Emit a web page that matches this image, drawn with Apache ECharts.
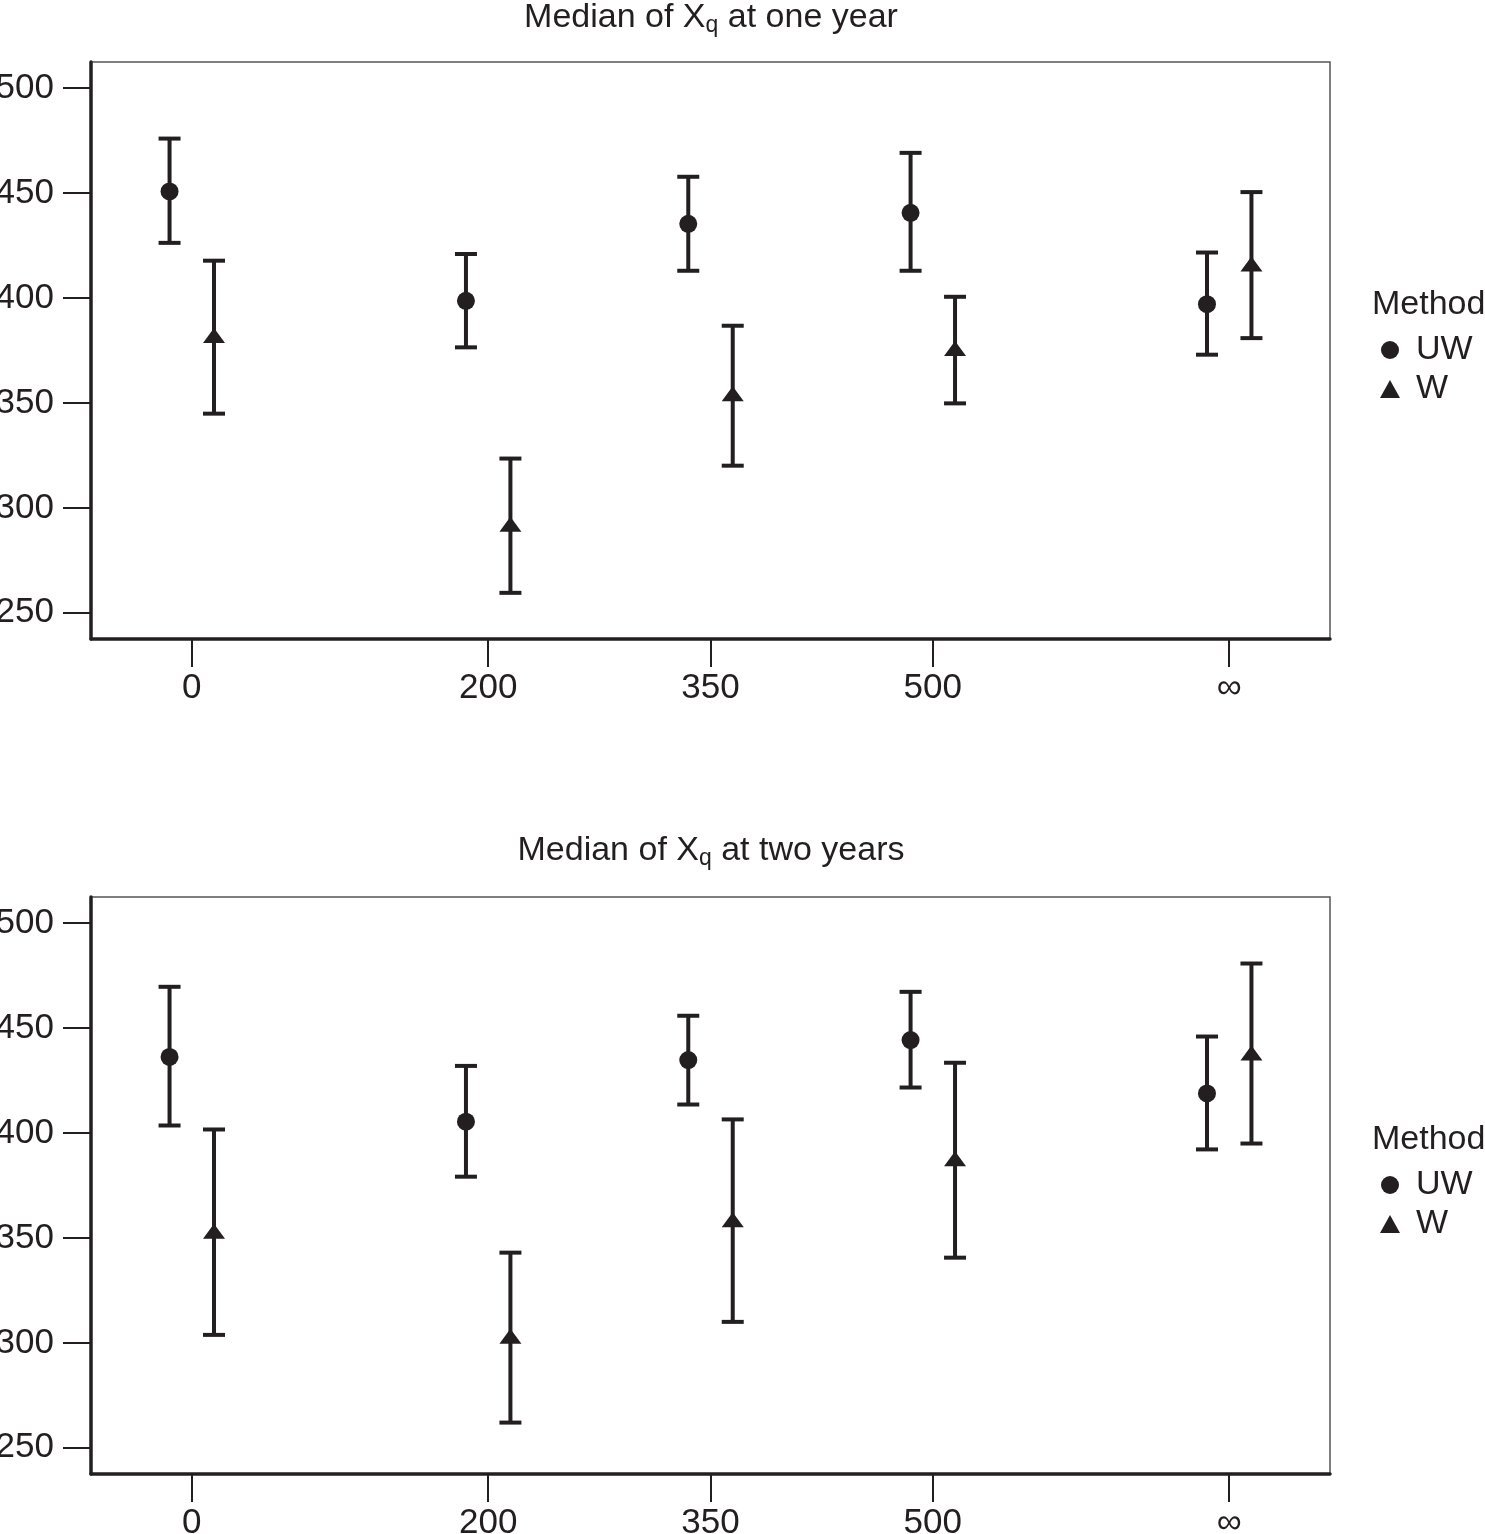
<!DOCTYPE html>
<html>
<head>
<meta charset="utf-8">
<title>Median of Xq</title>
<script src="https://cdn.jsdelivr.net/npm/echarts@6/dist/echarts.min.js"></script>
<style>
  html, body { margin: 0; padding: 0; background: #fff; }
  #main { width: 1485px; height: 1534px; }
</style>
</head>
<body>
<div id="main"></div>
<script>
// group positions on the x axis (infinity drawn at 700)
const xPositions = [0, 200, 350, 500, 700]
const xLabels = ['0', '200', '350', '500', '∞']
const yTicks = [250, 300, 350, 400, 450, 500]

// median of Xq at one year
const uw1 = [450.8, 398.7, 435.4, 440.6, 397.1]
const uw1Low = [426.3, 376.5, 413.0, 413.0, 373.0]
const uw1High = [476.0, 421.0, 457.8, 469.2, 421.7]
const w1 = [382.2, 292.2, 354.4, 375.9, 416.2]
const w1Low = [344.9, 259.5, 320.1, 349.8, 380.9]
const w1High = [417.8, 323.5, 386.8, 400.6, 450.5]

// median of Xq at two years
const uw2 = [436.3, 405.4, 434.8, 444.3, 418.9]
const uw2Low = [403.6, 379.2, 413.6, 421.7, 392.2]
const uw2High = [469.7, 432.0, 455.9, 467.3, 446.0]
const w2 = [353.2, 303.2, 358.7, 387.7, 438.2]
const w2Low = [303.8, 262.0, 310.0, 340.6, 395.0]
const w2High = [401.7, 343.0, 406.5, 433.5, 480.8]

const ink = '#231f20'
const font = 'Liberation Sans, Arial, sans-serif'
const dodge = 15 // horizontal offset of UW / W in axis units

const chart = echarts.init(document.getElementById('main'))

function makeGrid (top) {
  return {
    left: 91, right: 155, top: top, height: 577,
    outerBoundsMode: 'none', containLabel: false,
    show: true, borderColor: '#555', borderWidth: 1.5, backgroundColor: '#fff'
  }
}

function makeXAxis (idx) {
  return {
    type: 'value', gridIndex: idx, min: -68, max: 768,
    axisLine: { onZero: false, lineStyle: { color: ink, width: 3.5 } },
    axisTick: { customValues: xPositions, length: 28, lineStyle: { color: ink, width: 2 } },
    axisLabel: {
      customValues: xPositions, margin: 32, fontSize: 35, fontFamily: font, color: ink,
      formatter: v => xLabels[xPositions.indexOf(v)]
    },
    splitLine: { show: false }
  }
}

function makeYAxis (idx) {
  return {
    type: 'value', gridIndex: idx, min: 237.5, max: 512.5,
    axisLine: { onZero: false, lineStyle: { color: ink, width: 3.5 } },
    axisTick: { customValues: yTicks, length: 28, lineStyle: { color: ink, width: 2 } },
    axisLabel: { customValues: yTicks, margin: 37, fontSize: 35, fontFamily: font, color: ink },
    splitLine: { show: false }
  }
}

function errorBars (name, idx, low, high, shift) {
  return {
    type: 'custom', name: name, xAxisIndex: idx, yAxisIndex: idx,
    data: xPositions.map((x, i) => [x + shift, low[i], high[i]]),
    renderItem: (params, api) => {
      const hi = api.coord([api.value(0), api.value(2)])
      const lo = api.coord([api.value(0), api.value(1)])
      const half = 11
      const style = { stroke: ink, lineWidth: 4 }
      return {
        type: 'group',
        children: [
          { type: 'line', shape: { x1: hi[0], y1: hi[1], x2: lo[0], y2: lo[1] }, style: style },
          { type: 'line', shape: { x1: hi[0] - half, y1: hi[1], x2: hi[0] + half, y2: hi[1] }, style: style },
          { type: 'line', shape: { x1: lo[0] - half, y1: lo[1], x2: lo[0] + half, y2: lo[1] }, style: style }
        ]
      }
    },
    z: 2
  }
}

function points (name, idx, values, shift, symbol, size) {
  return {
    type: 'scatter', name: name, xAxisIndex: idx, yAxisIndex: idx,
    data: xPositions.map((x, i) => [x + shift, values[i]]),
    symbol: symbol, symbolSize: size,
    itemStyle: { color: ink, opacity: 1 },
    emphasis: { disabled: true },
    z: 3
  }
}

function makeLegend (top) {
  return {
    orient: 'vertical', left: 1375, top: top,
    data: [{ name: 'UW', icon: 'circle' }, { name: 'W', icon: 'triangle' }],
    itemWidth: 20, itemHeight: 18, itemGap: 5, selectedMode: false,
    textStyle: { fontSize: 34, fontFamily: font, color: ink, padding: [0, 0, 0, 11] }
  }
}

function titleText (text, top) {
  return {
    type: 'text', x: 711, y: top,
    style: {
      text: text, align: 'center', fill: ink, font: '34px ' + font,
      rich: { sub: { fontSize: 23, fontFamily: font, fill: ink, padding: [15, 0, 0, 0] } }
    }
  }
}

function methodText (top) {
  return {
    type: 'text', x: 1372, y: top,
    style: { text: 'Method', fill: ink, font: '34px ' + font }
  }
}

const option = {
  backgroundColor: '#fff',
  animation: false,
  grid: [makeGrid(62), makeGrid(897)],
  xAxis: [makeXAxis(0), makeXAxis(1)],
  yAxis: [makeYAxis(0), makeYAxis(1)],
  legend: [makeLegend(328), makeLegend(1163)],
  graphic: [
    titleText('Median of X{sub|q} at one year', -1),
    titleText('Median of X{sub|q} at two years', 832),
    methodText(288),
    methodText(1123)
  ],
  series: [
    errorBars('UW bars 1', 0, uw1Low, uw1High, -dodge),
    errorBars('W bars 1', 0, w1Low, w1High, dodge),
    points('UW', 0, uw1, -dodge, 'circle', 18),
    points('W', 0, w1, dodge, 'triangle', [22, 15]),
    errorBars('UW bars 2', 1, uw2Low, uw2High, -dodge),
    errorBars('W bars 2', 1, w2Low, w2High, dodge),
    points('UW', 1, uw2, -dodge, 'circle', 18),
    points('W', 1, w2, dodge, 'triangle', [22, 15])
  ]
}

chart.setOption(option)
</script>
</body>
</html>
